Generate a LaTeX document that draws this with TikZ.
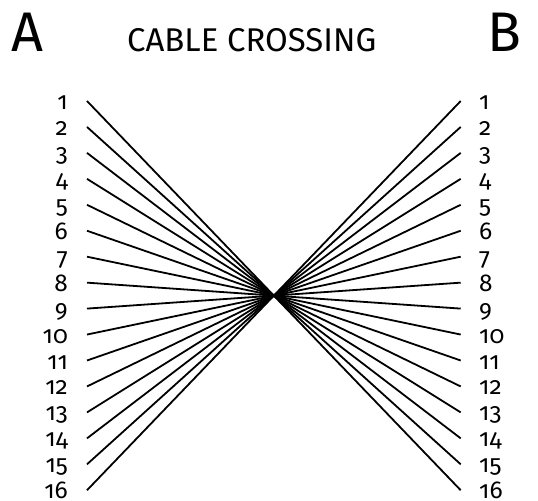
\documentclass[tikz,border=0pt]{standalone}
\usepackage{fontspec}
\setmainfont{Fira Sans}[Numbers=OldStyle]
\begin{document}
\begin{tikzpicture}[x=1bp,y=-1bp,
  num/.style={inner sep=0pt,font=\fontsize{24.5}{24.5}\selectfont},
  cable/.style={line width=1.8bp,line cap=butt},
  big/.style={inner sep=0pt,font=\fontsize{56}{56}\selectfont,anchor=base west},
  title/.style={inner sep=0pt,font=\fontsize{33}{33}\selectfont,anchor=base west}]
\useasboundingbox (0,0) rectangle (538,501);
\node[big] (A) at (11,52) {A};
\node[big] (B) at (487,52) {B};
\node[title] (T) at (127,52) {CABLE CROSSING};
\foreach \i in {1,...,16}{
  \pgfmathsetmacro{\yy}{101+(\i-1)*25.95}
  \coordinate (L\i) at (87,\yy);
  \coordinate (R\i) at (460.7,\yy);
  \node[num,anchor=base east] (nl\i) at (68,\yy+8.5) {\i};
  \node[num,anchor=base west] (nr\i) at (479,\yy+8.5) {\i};
}
\foreach \i in {1,...,16}{
  \pgfmathtruncatemacro{\j}{17-\i}
  \draw[cable] (L\i) -- (R\j);
}
\end{tikzpicture}
\end{document}
